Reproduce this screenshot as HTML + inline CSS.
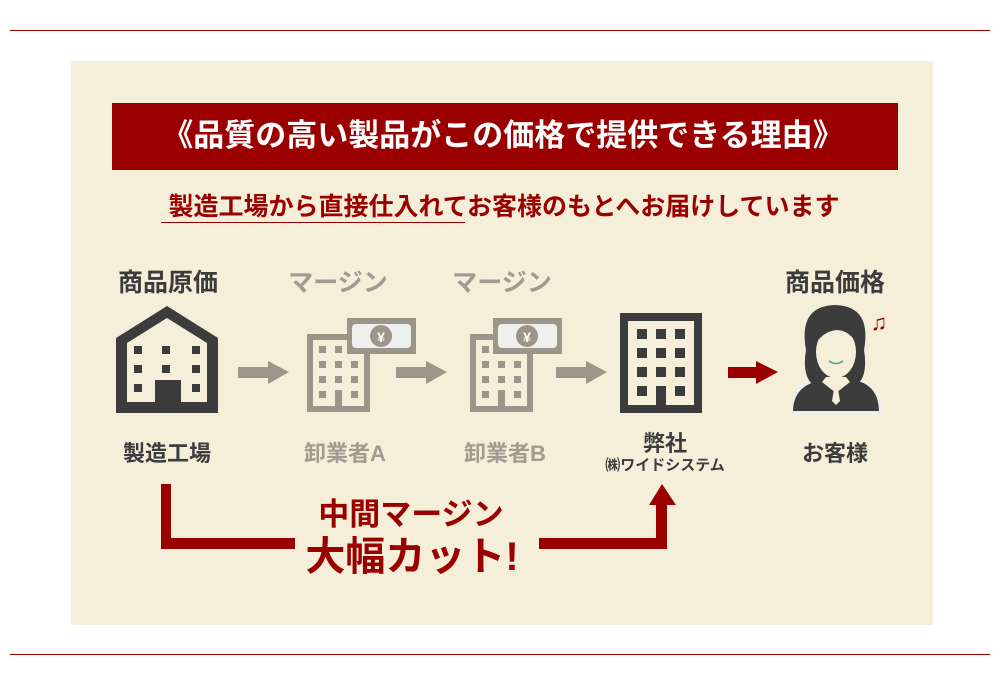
<!DOCTYPE html>
<html><head><meta charset="utf-8"><style>
*{margin:0;padding:0;box-sizing:border-box}
body{width:1000px;height:685px;background:#fff;position:relative;overflow:hidden;font-family:"Liberation Sans","Noto Sans CJK JP",sans-serif;font-weight:bold}
.a{position:absolute}
.t{position:absolute;white-space:nowrap;transform:translateX(-50%)}
</style></head><body>
<div class="a" style="left:10px;top:30px;width:980px;height:1px;background:#9b0000"></div>
<div class="a" style="left:10px;top:654px;width:980px;height:1px;background:#9b0000"></div>
<div class="a" style="left:71px;top:61px;width:862px;height:564px;background:#f5eed9"></div>
<div class="a" style="left:112px;top:103px;width:786px;height:67px;background:#9b0000"></div>
<div class="t" style="left:503px;top:117px;font-size:31px;color:#fff;line-height:38px">《品質の高い製品がこの価格で提供できる理由》</div>
<div class="t" style="left:504px;top:191px;font-size:25px;color:#9b0000;line-height:32px">製造工場から直接仕入れてお客様のもとへお届けしています</div>
<div class="a" style="left:161px;top:222px;width:304px;height:1px;background:#9b0000"></div>

<div class="t" style="left:168px;top:263px;font-size:25px;color:#3c3c3c">商品原価</div>
<div class="t" style="left:338px;top:263px;font-size:25px;color:#a09c92">マージン</div>
<div class="t" style="left:502px;top:263px;font-size:25px;color:#a09c92">マージン</div>
<div class="t" style="left:835px;top:263px;font-size:25px;color:#3c3c3c">商品価格</div>

<svg class="a" style="left:0;top:0" width="1000" height="685">
<path d="M116 338 L167 306 L218 338 L218 413 L116 413 Z M127 343 L127 402 L207 402 L207 343 L167 318 Z" fill="#3c3c3c" fill-rule="evenodd"/>
<g fill="#3c3c3c"><rect x="134" y="346" width="8" height="8"/><rect x="162" y="346" width="8" height="8"/><rect x="192" y="346" width="8" height="8"/>
<rect x="134" y="365" width="8" height="8"/><rect x="162" y="365" width="8" height="8"/><rect x="192" y="365" width="8" height="8"/>
<rect x="134" y="384" width="8" height="8"/><rect x="192" y="384" width="8" height="8"/><rect x="155" y="380" width="26" height="28"/></g>
<g fill="#9a968a"><path d="M307 334 H370 V412 H307 Z M313 340 V406 H364 V340 Z" fill-rule="evenodd"/>
<rect x="319" y="346" width="7" height="7"/><rect x="335" y="346" width="7" height="7"/><rect x="351" y="346" width="7" height="7"/>
<rect x="319" y="361" width="7" height="7"/><rect x="335" y="361" width="7" height="7"/><rect x="351" y="361" width="7" height="7"/>
<rect x="319" y="376" width="7" height="7"/><rect x="335" y="376" width="7" height="7"/><rect x="351" y="376" width="7" height="7"/>
<rect x="319" y="391" width="7" height="7"/><rect x="351" y="391" width="7" height="7"/><rect x="335" y="390" width="7" height="20"/>
<rect x="347" y="318" width="69" height="36"/></g>
<rect x="352" y="324" width="59" height="24" rx="4" fill="#eef0ee"/>
<circle cx="381" cy="336" r="11" fill="#9a968a"/><text x="381" y="342" font-size="14" fill="#fff" text-anchor="middle">¥</text>
<g fill="#9a968a"><path d="M470 334 H533 V412 H470 Z M476 340 V406 H527 V340 Z" fill-rule="evenodd"/>
<rect x="482" y="346" width="7" height="7"/><rect x="498" y="346" width="7" height="7"/><rect x="514" y="346" width="7" height="7"/>
<rect x="482" y="361" width="7" height="7"/><rect x="498" y="361" width="7" height="7"/><rect x="514" y="361" width="7" height="7"/>
<rect x="482" y="376" width="7" height="7"/><rect x="498" y="376" width="7" height="7"/><rect x="514" y="376" width="7" height="7"/>
<rect x="482" y="391" width="7" height="7"/><rect x="514" y="391" width="7" height="7"/><rect x="498" y="390" width="7" height="20"/>
<rect x="493" y="318" width="69" height="36"/></g>
<rect x="498" y="324" width="59" height="24" rx="4" fill="#eef0ee"/>
<circle cx="527" cy="336" r="11" fill="#9a968a"/><text x="527" y="342" font-size="14" fill="#fff" text-anchor="middle">¥</text>
<g fill="#3c3c3c"><path d="M620 313 H702 V413 H620 Z M628 321 V405 H694 V321 Z" fill-rule="evenodd"/>
<rect x="637" y="329" width="10" height="10"/><rect x="656" y="329" width="10" height="10"/><rect x="675" y="329" width="10" height="10"/>
<rect x="637" y="348" width="10" height="10"/><rect x="656" y="348" width="10" height="10"/><rect x="675" y="348" width="10" height="10"/>
<rect x="637" y="367" width="10" height="10"/><rect x="656" y="367" width="10" height="10"/><rect x="675" y="367" width="10" height="10"/>
<rect x="637" y="386" width="10" height="10"/><rect x="675" y="386" width="10" height="10"/><rect x="656" y="386" width="10" height="24"/></g>
<path d="M792 412 Q792 386 818 380 L838 386 L858 380 Q880 386 880 412 Z" fill="#3c3c3c" stroke="#e8eef2" stroke-width="2"/>
<path d="M806 350 Q798 306 835 305 Q872 306 864 350 Q868 374 858 384 L812 384 Q802 374 806 350 Z" fill="#3c3c3c"/>
<ellipse cx="836" cy="352" rx="20" ry="26" fill="#f5eed9"/>
<path d="M814 346 Q816 318 840 320 Q856 326 858 346 Q850 330 836 330 Q822 332 814 346 Z" fill="#3c3c3c"/>
<path d="M829 361 Q836 366 843 361" stroke="#5a9aa0" stroke-width="1.5" fill="none"/>
<path d="M822 382 L836 393 L850 382 L846 377 L826 377 Z" fill="#f5eed9"/>
<path d="M834 389 L838 389 L840 401 L836 405 L832 401 Z" fill="#f5eed9"/>
<text x="879" y="330" font-size="22" fill="#9b0000" text-anchor="middle">♫</text>
<g fill="#9a968a"><rect x="238" y="367" width="32" height="11"/><path d="M268 361 L289 372 L268 384 Z"/>
<rect x="396" y="367" width="32" height="11"/><path d="M426 361 L447 372 L426 384 Z"/>
<rect x="556" y="367" width="32" height="11"/><path d="M586 361 L607 372 L586 384 Z"/></g>
<g fill="#9b0000"><rect x="728" y="367" width="30" height="11"/><path d="M756 361 L778 372 L756 384 Z"/>
<path d="M161 484 H171 V538 H295 V549 H161 Z"/>
<path d="M539 538 H656 V505 H649 L662 484 L676 505 H667 V549 H539 Z"/></g>
</svg>

<div class="t" style="left:167px;top:436px;font-size:22px;color:#3c3c3c">製造工場</div>
<div class="t" style="left:345px;top:436px;font-size:22px;color:#a09c92">卸業者A</div>
<div class="t" style="left:505px;top:436px;font-size:22px;color:#a09c92">卸業者B</div>
<div class="t" style="left:665px;top:426px;font-size:22px;color:#3c3c3c">弊社</div>
<div class="t" style="left:665px;top:454px;font-size:15px;color:#3c3c3c">㈱ワイドシステム</div>
<div class="t" style="left:835px;top:436px;font-size:22px;color:#3c3c3c">お客様</div>
<div class="t" style="left:411px;top:496px;font-size:31px;color:#9b0000;line-height:38px">中間マージン</div>
<div class="t" style="left:412px;top:532px;font-size:40px;color:#9b0000;line-height:50px">大幅カット!</div>
</body></html>
